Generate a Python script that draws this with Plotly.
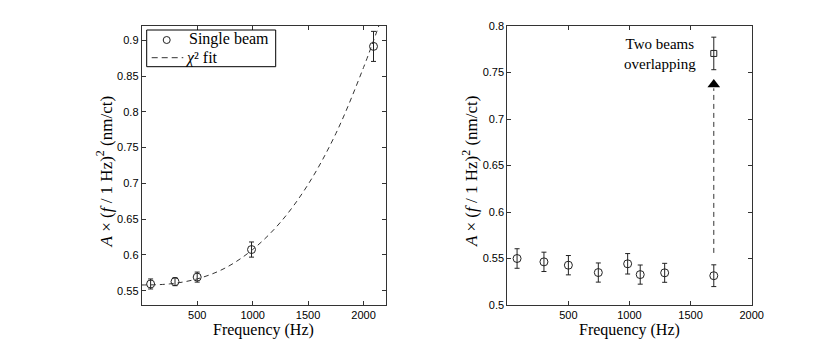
import plotly.graph_objects as go

# ---- Left panel: single beam ----
left_freq = [80, 300, 500, 990, 2090]
left_amp = [0.5594, 0.5626, 0.5690, 0.6075, 0.8915]
left_err = [0.0070, 0.0056, 0.0070, 0.0106, 0.0210]

fit_freq = [0, 250, 500, 750, 1000, 1250, 1500, 1750, 2000, 2160]
fit_amp = [0.558, 0.5595, 0.5665, 0.5815, 0.6075, 0.6455, 0.6985, 0.7695, 0.8620, 0.9300]

# ---- Right panel ----
right_freq = [80, 300, 500, 745, 985, 1088, 1288, 1690]
right_amp = [0.5500, 0.5464, 0.5428, 0.5349, 0.5443, 0.5327, 0.5346, 0.5315]
right_err = [0.0105, 0.0104, 0.0104, 0.0103, 0.0110, 0.0103, 0.0102, 0.0117]

two_freq = [1690]
two_amp = [0.7705]
two_err = [0.0175]

arrow_freq = [1690, 1690]
arrow_amp = [0.556, 0.733]
arrow_head = [0.7372]

left_xticks = [500, 1000, 1500, 2000]
left_yticks = [0.55, 0.6, 0.65, 0.7, 0.75, 0.8, 0.85, 0.9]
left_yticklabels = ["0.55", "0.6", "0.65", "0.7", "0.75", "0.8", "0.85", "0.9"]
right_xticks = [500, 1000, 1500, 2000]
right_yticks = [0.5, 0.55, 0.6, 0.65, 0.7, 0.75, 0.8]
right_yticklabels = ["0.5", "0.55", "0.6", "0.65", "0.7", "0.75", "0.8"]

legend_labels = ["Single beam", "<i>χ</i>² fit"]

INK = "#222222"
SERIF = "Liberation Serif"
SANS = "Liberation Sans"

# page body has an 8px default margin, so the figure is sized/positioned for it
W, H = 822, 335
T, B = 18, 38
PH = H - T - B  # plot height in px


def px_x(x):
    return x / W


def px_y(y):
    return (H - B - y) / PH


fig = go.Figure()

fig.add_trace(go.Scatter(
    x=left_freq, y=left_amp, mode="markers", name=legend_labels[0],
    marker=dict(symbol="circle-open", size=8, color=INK, line=dict(width=1, color=INK)),
    error_y=dict(type="data", array=left_err, color=INK, thickness=1, width=2.5),
    xaxis="x", yaxis="y", showlegend=False,
))
fig.add_trace(go.Scatter(
    x=fit_freq, y=fit_amp, mode="lines", name=legend_labels[1],
    line=dict(color="#333333", width=1, dash="5px,4px", shape="spline"),
    xaxis="x", yaxis="y", showlegend=False,
))

fig.add_trace(go.Scatter(
    x=arrow_freq, y=arrow_amp, mode="lines",
    line=dict(color="#333333", width=1, dash="5px,4px"),
    xaxis="x2", yaxis="y2", showlegend=False,
))
fig.add_trace(go.Scatter(
    x=[arrow_freq[0]], y=arrow_head, mode="markers",
    marker=dict(symbol="triangle-up", size=11, color="black"),
    xaxis="x2", yaxis="y2", showlegend=False,
))
fig.add_trace(go.Scatter(
    x=right_freq, y=right_amp, mode="markers",
    marker=dict(symbol="circle-open", size=8, color=INK, line=dict(width=1, color=INK)),
    error_y=dict(type="data", array=right_err, color=INK, thickness=1, width=2.5),
    xaxis="x2", yaxis="y2", showlegend=False,
))
fig.add_trace(go.Scatter(
    x=two_freq, y=two_amp, mode="markers",
    marker=dict(symbol="square-open", size=6, color=INK, line=dict(width=1, color=INK)),
    error_y=dict(type="data", array=two_err, color=INK, thickness=1, width=2.5),
    xaxis="x2", yaxis="y2", showlegend=False,
))

axis_common = dict(
    showline=True, linecolor="#333333", linewidth=1, mirror="ticks",
    ticks="inside", ticklen=4, tickcolor="#333333", tickwidth=1,
    showgrid=False, zeroline=False, automargin=False,
    tickfont=dict(family=SANS, size=11, color="black"),
)
ytitle = "<i>A</i> × (<i>f</i> / 1 Hz)<sup>2</sup> (nm/ct)"
title_font = dict(family=SERIF, size=16, color="black")
ytitle_font = dict(family=SERIF, size=17, color="black")
leg_font = dict(family=SERIF, size=16, color="black")

# hand-drawn legend box (compact, like the original)
shapes = [
    dict(type="rect", xref="paper", yref="paper",
         x0=px_x(138.7), x1=px_x(267.7), y0=px_y(58.7), y1=px_y(22),
         line=dict(color="black", width=1), fillcolor="white", layer="above"),
    dict(type="circle", xref="paper", yref="paper", xsizemode="pixel", ysizemode="pixel",
         xanchor=px_x(158.7), yanchor=px_y(32), x0=-3.5, x1=3.5, y0=-3.5, y1=3.5,
         line=dict(color=INK, width=1), layer="above"),
    dict(type="line", xref="paper", yref="paper",
         x0=px_x(143.7), x1=px_x(175.3), y0=px_y(49.7), y1=px_y(49.7),
         line=dict(color="#333333", width=1, dash="6px,4px"), layer="above"),
]

annotations = [
    dict(x=px_x(180.3), y=px_y(31), xref="paper", yref="paper", xanchor="left", yanchor="middle",
         text=legend_labels[0], showarrow=False, font=leg_font, borderpad=0),
    dict(x=px_x(176.0), y=px_y(50.0), xref="paper", yref="paper", xanchor="left", yanchor="middle",
         text=legend_labels[1], showarrow=False, font=leg_font, borderpad=0),
    dict(x=1560, y=0.7704, xref="x2", yref="y2", xanchor="right", yanchor="middle",
         text="Two beams<br>overlapping", showarrow=False, align="center",
         font=dict(family=SERIF, size=15, color="black")),
    dict(x=0.3111, y=-0.0896, xref="paper", yref="paper", xanchor="center", yanchor="middle",
         text="Frequency (Hz)", showarrow=False, font=title_font),
    dict(x=0.7560, y=-0.0896, xref="paper", yref="paper", xanchor="center", yanchor="middle",
         text="Frequency (Hz)", showarrow=False, font=title_font),
    dict(x=0.1180, y=0.4785, xref="paper", yref="paper", xanchor="center", yanchor="middle",
         text=ytitle, textangle=-90, showarrow=False, font=ytitle_font),
    dict(x=0.5628, y=0.4785, xref="paper", yref="paper", xanchor="center", yanchor="middle",
         text=ytitle, textangle=-90, showarrow=False, font=ytitle_font),
]

fig.update_layout(
    width=W, height=H,
    margin=dict(l=0, r=0, t=T, b=B),
    paper_bgcolor="white", plot_bgcolor="white",
    font=dict(family=SERIF, color="black"),
    showlegend=False,
    xaxis=dict(domain=[0.1627, 0.4595], range=[0, 2200], tickvals=left_xticks,
               anchor="y", **axis_common),
    yaxis=dict(domain=[0, 1], range=[0.53, 0.92], tickvals=left_yticks, ticktext=left_yticklabels,
               anchor="x", **axis_common),
    xaxis2=dict(domain=[0.6074, 0.9047], range=[0, 2000], tickvals=right_xticks,
                anchor="y2", **axis_common),
    yaxis2=dict(domain=[0, 1], range=[0.5, 0.8], tickvals=right_yticks, ticktext=right_yticklabels,
                anchor="x2", **axis_common),
    shapes=shapes,
    annotations=annotations,
)

fig.write_html("out.html")
